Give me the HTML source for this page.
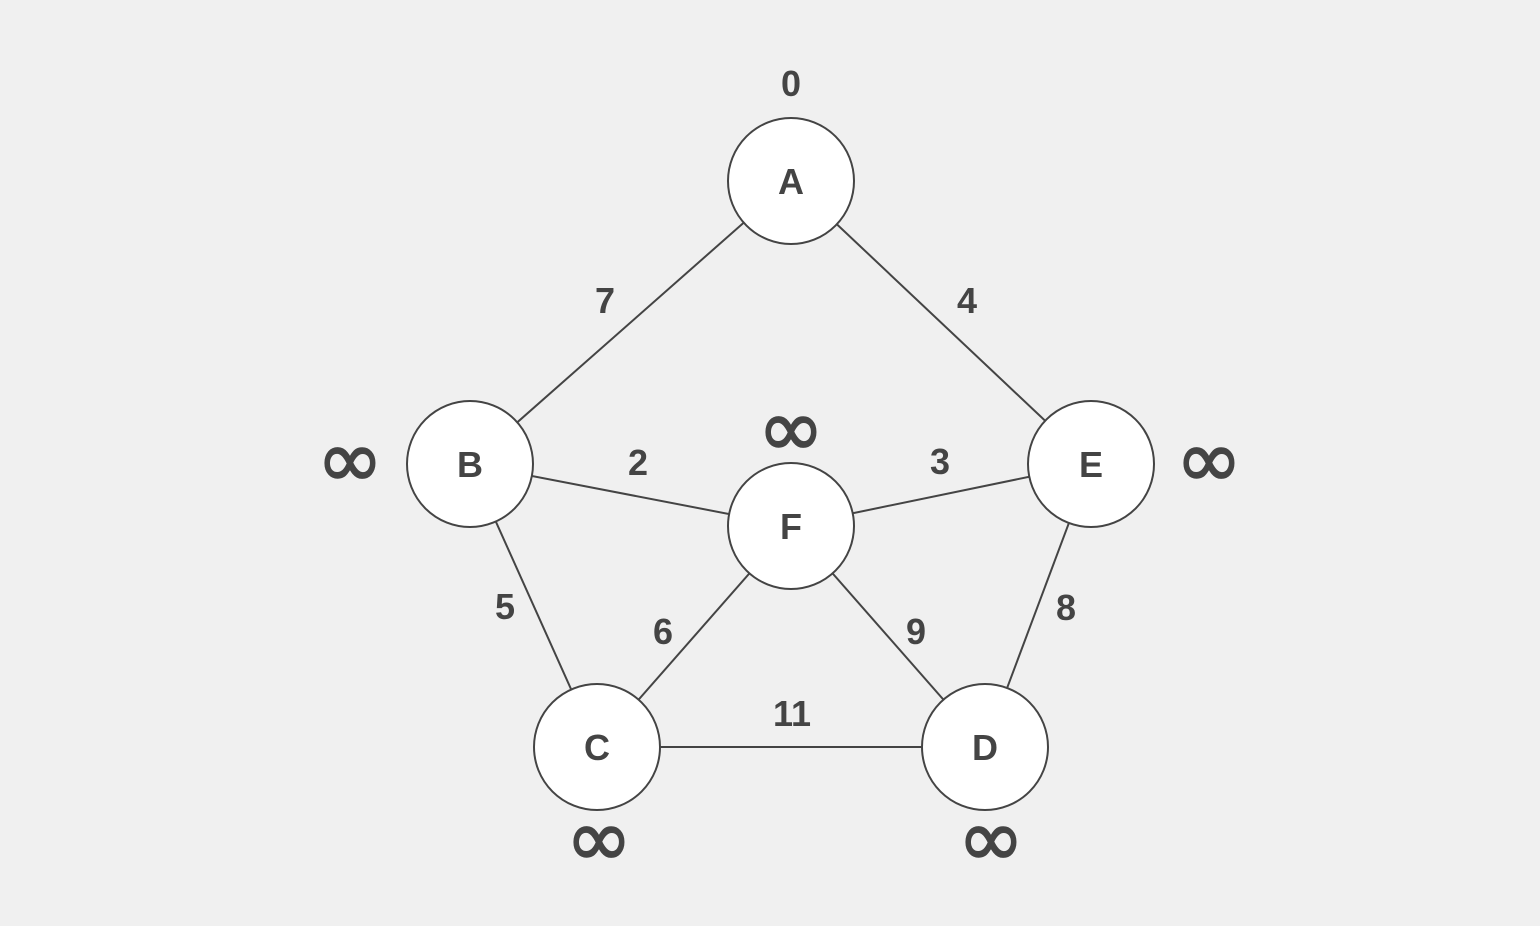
<!DOCTYPE html>
<html><head><style>html,body{margin:0;padding:0;background:#f0f0f0}</style></head>
<body>
<svg width="1540" height="926" xmlns="http://www.w3.org/2000/svg" style="display:block">
<rect width="1540" height="926" fill="#f0f0f0"/>
<g stroke="#444" stroke-width="2">
<line x1="791" y1="181" x2="470" y2="464"/>
<line x1="791" y1="181" x2="1091" y2="464"/>
<line x1="470" y1="464" x2="791" y2="526"/>
<line x1="1091" y1="464" x2="791" y2="526"/>
<line x1="470" y1="464" x2="597" y2="747"/>
<line x1="791" y1="526" x2="597" y2="747"/>
<line x1="791" y1="526" x2="985" y2="747"/>
<line x1="1091" y1="464" x2="985" y2="747"/>
<line x1="597" y1="747" x2="985" y2="747"/>
</g>
<g fill="#fff" stroke="#444" stroke-width="2">
<circle cx="791" cy="181" r="63"/>
<circle cx="470" cy="464" r="63"/>
<circle cx="1091" cy="464" r="63"/>
<circle cx="791" cy="526" r="63"/>
<circle cx="597" cy="747" r="63"/>
<circle cx="985" cy="747" r="63"/>
</g>
<g font-family="Liberation Sans, sans-serif" font-weight="bold" font-size="36" fill="#444" text-anchor="middle">
<text x="791" y="194">A</text>
<text x="470" y="477">B</text>
<text x="1091" y="477">E</text>
<text x="791" y="539">F</text>
<text x="597" y="760">C</text>
<text x="985" y="760">D</text>
<text x="791" y="96">0</text>
<text x="605" y="313">7</text>
<text x="967" y="313">4</text>
<text x="638" y="475">2</text>
<text x="940" y="474">3</text>
<text x="505" y="619">5</text>
<text x="663" y="644">6</text>
<text x="916" y="644">9</text>
<text x="1066" y="620">8</text>
<text x="792" y="726">11</text>
</g>
<g font-family="DejaVu Sans, sans-serif" font-size="80" fill="#444" stroke="#444" stroke-width="1.6" text-anchor="middle">
<text x="350" y="487">∞</text>
<text x="791" y="456">∞</text>
<text x="1209" y="487">∞</text>
<text x="599" y="866">∞</text>
<text x="991" y="866">∞</text>
</g>
</svg>
</body></html>
